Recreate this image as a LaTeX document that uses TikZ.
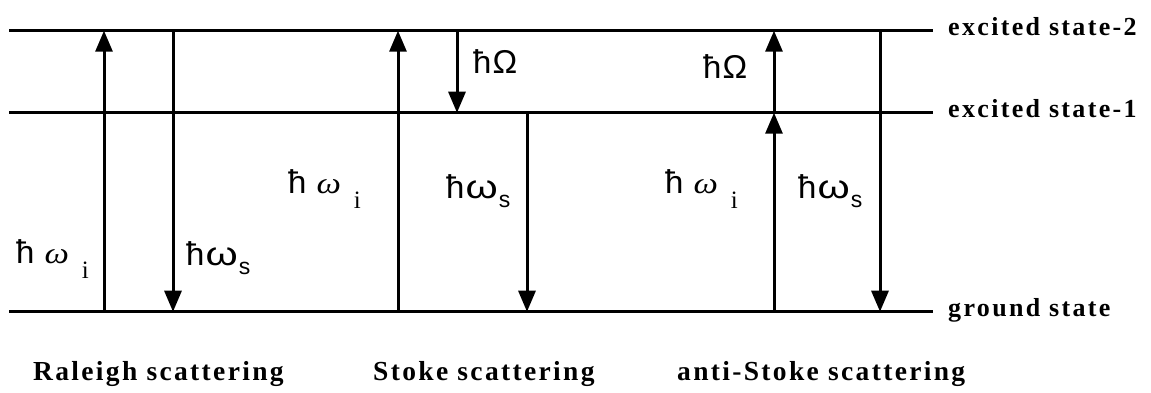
\documentclass[tikz,border=0pt]{standalone}
\usepackage{fontspec}
\usepackage{graphicx}
\usetikzlibrary{arrows.meta}
\newfontfamily\labsans{Liberation Sans}
\newfontfamily\labserif{Liberation Serif}
\newfontfamily\labserifit{Liberation Serif Italic}
\newfontfamily\statefont[LetterSpace=9]{Liberation Serif Bold}
\newfontfamily\capfont[LetterSpace=8.5]{Liberation Serif Bold}
\newcommand{\hws}{{\labsans ħ\kern1pt\scalebox{1.25}[1]{ω}\kern1pt\raisebox{-9pt}{\fontsize{23}{23}\selectfont s}}}
\newcommand{\hwi}{{\labsans ħ\kern10pt{\labserifit\fontsize{30}{30}\selectfont\scalebox{1.15}[1]{ω}}\kern13pt\raisebox{-15pt}{\labserif\fontsize{25}{25}\selectfont i}}}
\newcommand{\hO}{{\labsans ħ\kern1pt Ω}}
\tikzset{
  lvl/.style={line width=3pt},
  arr/.style={line width=3pt,-{Triangle[width=17pt,length=21pt]}},
  lab/.style={font=\fontsize{33}{33}\selectfont\labsans,inner sep=0pt,anchor=base west},
  statelab/.style={font=\fontsize{26}{26}\selectfont\statefont,inner sep=0pt,anchor=base west},
  caplab/.style={font=\fontsize{27.5}{27.5}\selectfont\capfont,inner sep=0pt,anchor=base west}
}
\begin{document}
\begin{tikzpicture}[x=1pt,y=-1pt]
\useasboundingbox (0,0) rectangle (1151,392);
% levels
\coordinate (t0) at (9,30.7);   \coordinate (t1) at (933,30.7);
\coordinate (m0) at (9,112.7);  \coordinate (m1) at (933,112.7);
\coordinate (g0) at (9,311.7);  \coordinate (g1) at (933,311.7);
\draw[lvl] (t0) -- (t1);
\draw[lvl] (m0) -- (m1);
\draw[lvl] (g0) -- (g1);
% state labels
\node[statelab] (es2) at (948,35) {excited state-2};
\node[statelab] (es1) at (948,117) {excited state-1};
\node[statelab] (gs) at (948,316) {ground state};
% arrow end points
\coordinate (ra) at (104,311.7); \coordinate (rat) at (104,30.7);
\coordinate (rb) at (173,30.7);  \coordinate (rbg) at (173,311.7);
\coordinate (sa) at (398,311.7); \coordinate (sat) at (398,30.7);
\coordinate (sb) at (457,30.7);  \coordinate (sbm) at (457,112.7);
\coordinate (sc) at (527,112.7); \coordinate (scg) at (527,311.7);
\coordinate (aa) at (774,311.7); \coordinate (aam) at (774,112.7); \coordinate (aat) at (774,30.7);
\coordinate (ab) at (880,30.7);  \coordinate (abg) at (880,311.7);
\draw[arr] (ra) -- (rat);
\draw[arr] (rb) -- (rbg);
\draw[arr] (sa) -- (sat);
\draw[arr] (sb) -- (sbm);
\draw[arr] (sc) -- (scg);
\draw[arr] (aa) -- (aam);
\draw[arr] (aam) -- (aat);
\draw[arr] (ab) -- (abg);
% energy labels
\node[lab] (l1) at (16,263) {\hwi};
\node[lab] (l2) at (186,265) {\hws};
\node[lab] (l3) at (288,193) {\hwi};
\node[lab] (l4) at (473,73) {\hO};
\node[lab] (l5) at (446,198) {\hws};
\node[lab] (l6) at (703,78) {\hO};
\node[lab] (l7) at (665,193) {\hwi};
\node[lab] (l8) at (798,198) {\hws};
% captions
\node[caplab] (c1) at (33,380) {Raleigh scattering};
\node[caplab] (c2) at (373,380) {Stoke scattering};
\node[caplab] (c3) at (677,380) {anti-Stoke scattering};
\end{tikzpicture}
\end{document}
